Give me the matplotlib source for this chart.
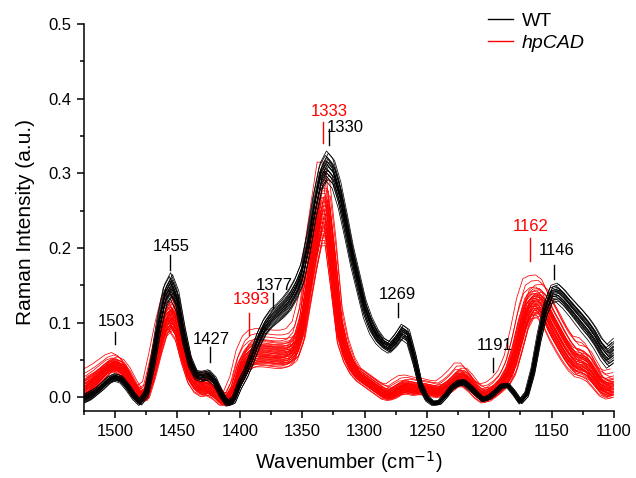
import numpy as np
import matplotlib
matplotlib.use("Agg")
from matplotlib import pyplot as plt
from matplotlib.lines import Line2D
from matplotlib.ticker import MultipleLocator, FormatStrFormatter

plt.rcParams['font.family'] = ['Liberation Sans', 'DejaVu Sans']

# wavenumber grid, 5 cm-1 steps from 1525 down to 1100
wavenumber = np.arange(1525, 1099, -5)

# WT: typical spectrum and half-range of the spread between samples
wt_mean = [
    -0.002, 0.002, 0.008, 0.015, 0.023, 0.027, 0.024, 0.014, 0.002, -0.007,
    0.005, 0.045, 0.095, 0.135, 0.150, 0.130, 0.085, 0.048, 0.030, 0.028,
    0.030, 0.022, 0.005, -0.008, -0.004, 0.017, 0.033, 0.054, 0.077, 0.094,
    0.105, 0.112, 0.120, 0.130, 0.145, 0.165, 0.205, 0.255, 0.295, 0.310,
    0.300, 0.272, 0.232, 0.190, 0.155, 0.120, 0.097, 0.082, 0.072, 0.067,
    0.076, 0.088, 0.082, 0.052, 0.016, -0.001, -0.008, -0.007, 0.002, 0.013,
    0.019, 0.020, 0.013, 0.005, -0.003, 0.000, 0.007, 0.015, 0.016, 0.006,
    -0.006, 0.004, 0.035, 0.080, 0.117, 0.138, 0.140, 0.132, 0.122, 0.112,
    0.102, 0.092, 0.080, 0.065, 0.055, 0.062,
]
wt_spread = [
    0.006, 0.006, 0.005, 0.005, 0.005, 0.005, 0.005, 0.005, 0.005, 0.004,
    0.006, 0.010, 0.014, 0.016, 0.017, 0.015, 0.012, 0.008, 0.006, 0.007,
    0.007, 0.006, 0.005, 0.004, 0.005, 0.007, 0.008, 0.010, 0.011, 0.012,
    0.013, 0.013, 0.014, 0.015, 0.015, 0.016, 0.017, 0.018, 0.019, 0.020,
    0.020, 0.019, 0.017, 0.015, 0.014, 0.013, 0.012, 0.010, 0.008, 0.008,
    0.009, 0.010, 0.010, 0.008, 0.005, 0.004, 0.003, 0.003, 0.003, 0.003,
    0.004, 0.004, 0.004, 0.003, 0.003, 0.003, 0.003, 0.003, 0.003, 0.003,
    0.003, 0.004, 0.006, 0.008, 0.010, 0.012, 0.013, 0.013, 0.013, 0.014,
    0.015, 0.015, 0.015, 0.015, 0.016, 0.017,
]

# hpCAD
cad_mean = [
    0.012, 0.018, 0.025, 0.033, 0.041, 0.044, 0.040, 0.028, 0.012, 0.001,
    0.005, 0.035, 0.070, 0.100, 0.110, 0.095, 0.060, 0.032, 0.018, 0.013,
    0.014, 0.008, -0.002, -0.004, 0.008, 0.035, 0.050, 0.058, 0.060, 0.060,
    0.059, 0.058, 0.058, 0.060, 0.068, 0.095, 0.150, 0.200, 0.245, 0.245,
    0.175, 0.095, 0.062, 0.042, 0.030, 0.024, 0.018, 0.012, 0.006, 0.004,
    0.008, 0.013, 0.014, 0.012, 0.012, 0.011, 0.009, 0.008, 0.012, 0.018,
    0.026, 0.026, 0.018, 0.008, 0.002, 0.004, 0.010, 0.018, 0.030, 0.052,
    0.085, 0.115, 0.127, 0.128, 0.118, 0.100, 0.085, 0.070, 0.057, 0.048,
    0.046, 0.040, 0.028, 0.016, 0.012, 0.014,
]
cad_spread = [
    0.012, 0.011, 0.010, 0.009, 0.008, 0.008, 0.008, 0.009, 0.009, 0.007,
    0.008, 0.012, 0.015, 0.017, 0.018, 0.016, 0.013, 0.011, 0.010, 0.010,
    0.010, 0.009, 0.007, 0.006, 0.010, 0.014, 0.016, 0.016, 0.016, 0.016,
    0.016, 0.016, 0.016, 0.016, 0.017, 0.020, 0.027, 0.030, 0.035, 0.035,
    0.030, 0.020, 0.013, 0.009, 0.007, 0.007, 0.007, 0.007, 0.007, 0.007,
    0.008, 0.008, 0.008, 0.008, 0.007, 0.007, 0.007, 0.007, 0.008, 0.009,
    0.010, 0.010, 0.009, 0.008, 0.008, 0.008, 0.008, 0.009, 0.013, 0.020,
    0.024, 0.022, 0.018, 0.018, 0.020, 0.020, 0.020, 0.019, 0.018, 0.017,
    0.017, 0.016, 0.014, 0.012, 0.012, 0.012,
]

# where each sample sits inside the spread, and its small wavenumber offset
wt_level = [1.0, 0.85, 0.7, 0.6, 0.45, 0.35, 0.25, 0.15, 0.05, -0.05,
            -0.15, -0.25, -0.35, -0.5, -0.6, -0.7, -0.85, -1.0, 0.3, -0.3]
wt_shift = [0.5, -1.0, 1.5, 0.0, -0.5, 1.0, -1.5, 0.5, 0.0, -1.0,
            1.0, -0.5, 1.5, 0.0, -1.5, 0.5, -1.0, 1.0, 0.0, -0.5]

cad_level = [1.6, 1.3, 1.1, 1.0, 0.9, 0.8, 0.7, 0.65, 0.6, 0.5,
             0.45, 0.4, 0.3, 0.25, 0.2, 0.15, 0.1, 0.05, 0.0, -0.05,
             -0.1, -0.15, -0.2, -0.25, -0.3, -0.35, -0.4, -0.45, -0.5, -0.55,
             -0.6, -0.65, -0.7, -0.75, -0.8, -0.85, -0.9, -1.0, -1.1, -1.2,
             0.35, -0.3, 0.55, 2.0]
cad_shift = [1.0, -2.0, 2.5, 0.0, -1.0, 1.5, -2.5, 0.5, 2.0, -1.5,
             0.0, 1.0, -0.5, 2.5, -2.0, 0.5, -1.0, 1.5, 0.0, -2.5,
             2.0, -0.5, 1.0, -1.5, 0.5, 2.5, -2.0, 0.0, 1.5, -1.0,
             -0.5, 2.0, -2.5, 1.0, 0.0, -1.5, 0.5, 2.0, -1.0, 1.5,
             -2.0, 2.5, -0.5, 3.0]

# peak annotations: label, colour, label x, label baseline y, tick x, tick top, tick bottom
peak_labels = ['1503', '1455', '1427', '1393', '1377', '1333', '1330',
               '1269', '1191', '1162', '1146']
peak_colors = ['k', 'k', 'k', 'r', 'k', 'r', 'k', 'k', 'k', 'r', 'k']
label_x = [1499, 1455, 1423, 1391, 1372, 1328, 1315.5, 1273.5, 1196, 1167, 1146]
label_y = [0.0955, 0.1955, 0.0714, 0.125, 0.144, 0.377, 0.3555,
           0.1316, 0.0634, 0.2226, 0.190]
tick_x = [1500, 1455.7, 1424, 1392.4, 1373, 1333.2, 1328.3,
          1273.5, 1196.7, 1167.5, 1148]
tick_top = [0.0878, 0.190, 0.067, 0.113, 0.140, 0.369, 0.360,
            0.126, 0.0526, 0.213, 0.177]
tick_bottom = [0.0714, 0.171, 0.047, 0.084, 0.1195, 0.340, 0.338,
               0.107, 0.0335, 0.183, 0.159]

fig = plt.figure(figsize=(6.36, 4.78), dpi=100)
ax = fig.add_axes([0.132, 0.1395, 0.8333, 0.8103])

cad_mean = np.array(cad_mean)
cad_spread = np.array(cad_spread)
wt_mean = np.array(wt_mean)
wt_spread = np.array(wt_spread)

for k, s in zip(cad_level, cad_shift):
    ax.plot(wavenumber + s, cad_mean + k * cad_spread, color='#ff0000', lw=0.55)
for k, s in zip(wt_level, wt_shift):
    ax.plot(wavenumber + s, wt_mean + k * wt_spread, color='#000000', lw=0.55)

for i, lab in enumerate(peak_labels):
    ax.text(label_x[i], label_y[i], lab, color=peak_colors[i], fontsize=12,
            ha='center', va='baseline')
    ax.plot([tick_x[i], tick_x[i]], [tick_bottom[i], tick_top[i]],
            color=peak_colors[i], lw=1.0)

ax.set_xlim(1525, 1100)
ax.set_ylim(-0.0187, 0.5)
ax.xaxis.set_major_locator(MultipleLocator(50))
ax.xaxis.set_minor_locator(MultipleLocator(25))
ax.yaxis.set_major_locator(MultipleLocator(0.1))
ax.yaxis.set_minor_locator(MultipleLocator(0.05))
ax.yaxis.set_major_formatter(FormatStrFormatter('%.1f'))

for side in ['top', 'right']:
    ax.spines[side].set_visible(False)
for side in ['left', 'bottom']:
    ax.spines[side].set_linewidth(1.1)
ax.tick_params(which='major', direction='out', length=5, width=1.1, labelsize=12, pad=4)
ax.tick_params(which='minor', direction='out', length=3, width=1.1)

ax.set_xlabel('Wavenumber (cm$^{-1}$)', fontsize=14.5)
ax.set_ylabel('Raman Intensity (a.u.)', fontsize=15)
ax.xaxis.set_label_coords(0.5, -0.097)
ax.yaxis.set_label_coords(-0.093, 0.49)

handles = [Line2D([], [], color='k', lw=1.0), Line2D([], [], color='r', lw=1.0)]
leg = fig.legend(handles, ['WT', 'hpCAD'], loc='upper left',
                 bbox_to_anchor=(488 / 636, 1 - 12 / 478), frameon=False,
                 fontsize=14, handlelength=1.3, handletextpad=0.45,
                 labelspacing=0.22, borderpad=0, borderaxespad=0)
leg.get_texts()[1].set_style('italic')

fig.savefig('out.png', dpi=100)
